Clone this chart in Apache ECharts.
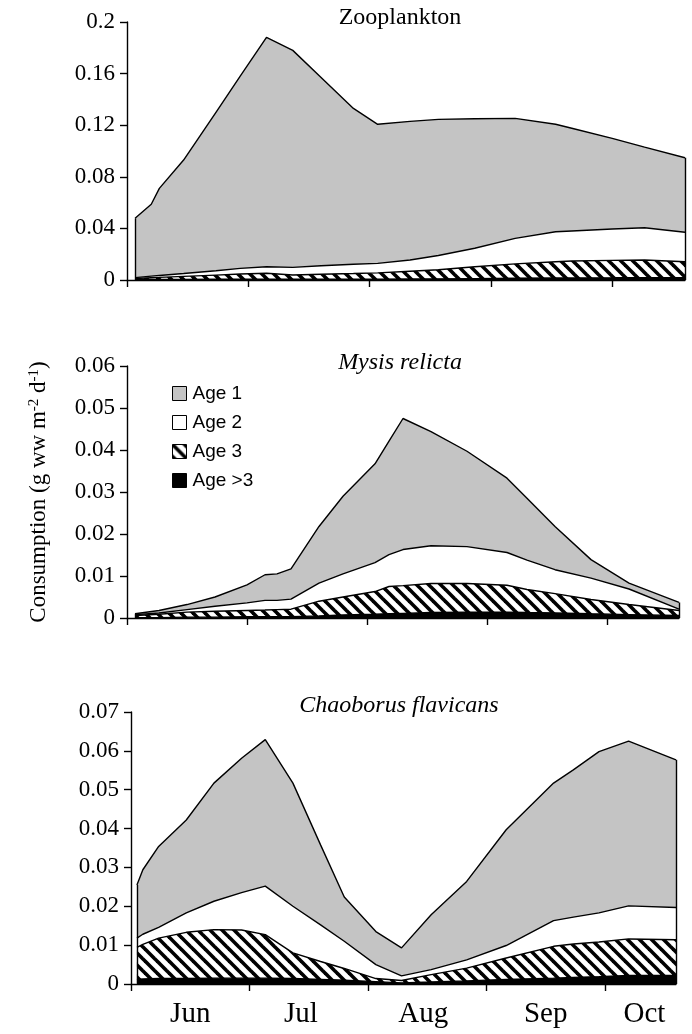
<!DOCTYPE html>
<html>
<head>
<meta charset="utf-8">
<script src="https://cdn.jsdelivr.net/npm/echarts@6/dist/echarts.min.js"></script>
<style>
  html, body { margin: 0; padding: 0; background: #fff; }
  #chart { width: 692px; height: 1034px; }
</style>
</head>
<body>
<div id="chart"></div>
<script>
// x = days since 1 June (month ticks every 30 days)
const monthTicks = [0, 30, 60, 90, 120];
const monthLabelPos = [15, 43, 74, 105, 130];
const monthLabels = ["Jun", "Jul", "Aug", "Sep", "Oct"];
const legendNames = ["Age 1", "Age 2", "Age 3", "Age >3"];

// Zooplankton
const zooDays = [2, 6, 8, 14, 22, 28, 34.5, 41, 48, 56, 62, 70, 77, 86, 96, 106, 110, 120, 128, 138];
const zooAge1 = [0.046, 0.0557, 0.0675, 0.088, 0.1228, 0.149, 0.1777, 0.1682, 0.146, 0.1208, 0.1078, 0.1075, 0.1055, 0.1004, 0.093, 0.0833, 0.0796, 0.0703, 0.0625, 0.0578];
const zooAge2 = [0.0006, 0.0012, 0.0015, 0.0022, 0.0034, 0.0044, 0.0051, 0.0059, 0.0065, 0.0072, 0.0074, 0.0087, 0.011, 0.0143, 0.0198, 0.0232, 0.0233, 0.0243, 0.025, 0.0228];
const zooAge3 = [0.0008, 0.0014, 0.0015, 0.0023, 0.0032, 0.004, 0.0045, 0.0033, 0.0039, 0.0043, 0.0048, 0.006, 0.0071, 0.0092, 0.0112, 0.0127, 0.0131, 0.0135, 0.0137, 0.0124];
const zooAge4 = [0.0004, 0.0004, 0.0005, 0.0005, 0.0006, 0.0006, 0.0007, 0.0006, 0.0006, 0.0007, 0.0007, 0.0008, 0.0009, 0.0011, 0.0013, 0.0015, 0.0016, 0.0017, 0.0018, 0.0018];

// Mysis relicta
const mysisDays = [2, 8, 15, 22, 30, 34.5, 37.5, 41, 48, 54, 62, 65.5, 69, 76, 85, 95, 100, 107, 116, 125.5, 138];
const mysisAge1 = [0.0002, 0.0006, 0.0012, 0.0022, 0.0043, 0.0061, 0.0063, 0.0072, 0.0135, 0.0185, 0.0235, 0.027, 0.0312, 0.0272, 0.0227, 0.0177, 0.0147, 0.0103, 0.0044, 0.0014, 0.0016];
const mysisAge2 = [0.0002, 0.0003, 0.0006, 0.0012, 0.0018, 0.0023, 0.0022, 0.0024, 0.0043, 0.0055, 0.0069, 0.0076, 0.0086, 0.009, 0.0088, 0.0078, 0.007, 0.0057, 0.0051, 0.0037, 0.0003];
const mysisAge3 = [0.0005, 0.0008, 0.0012, 0.0014, 0.0015, 0.0016, 0.0017, 0.0018, 0.0035, 0.0043, 0.0054, 0.0065, 0.0066, 0.0069, 0.0068, 0.0064, 0.0055, 0.0046, 0.0034, 0.0024, 0.0012];
const mysisAge4 = [0.0001, 0.0001, 0.0002, 0.0002, 0.0003, 0.0003, 0.0003, 0.0003, 0.0005, 0.0007, 0.0009, 0.001, 0.0011, 0.0013, 0.0014, 0.0014, 0.0013, 0.0012, 0.001, 0.0008, 0.0006];

// Chaoborus flavicans
const chaoDays = [1.5, 3, 7, 14, 21, 28, 34, 41, 48, 54, 62, 68.5, 76, 85, 95, 107, 112, 118.5, 126, 138];
const chaoAge1 = [0.0137, 0.0166, 0.0208, 0.0239, 0.0304, 0.0346, 0.0377, 0.0317, 0.0206, 0.0114, 0.0085, 0.0072, 0.0141, 0.0202, 0.0298, 0.0354, 0.0379, 0.0415, 0.0424, 0.038];
const chaoAge2 = [0.0024, 0.0026, 0.0028, 0.005, 0.0073, 0.0096, 0.0125, 0.012, 0.0094, 0.007, 0.0036, 0.0012, 0.0013, 0.0021, 0.0032, 0.0066, 0.0069, 0.0075, 0.0085, 0.0083];
const chaoAge3 = [0.0082, 0.0089, 0.0104, 0.0119, 0.0125, 0.0124, 0.0112, 0.0066, 0.0046, 0.003, 0.0008, 0.0006, 0.0019, 0.0033, 0.0055, 0.0082, 0.0086, 0.0089, 0.0094, 0.0092];
const chaoAge4 = [0.0012, 0.0013, 0.0014, 0.0014, 0.0015, 0.0015, 0.0015, 0.0014, 0.0012, 0.001, 0.0006, 0.0003, 0.0005, 0.0008, 0.0012, 0.0015, 0.0017, 0.0019, 0.0022, 0.0022];

const yMax = [0.2, 0.06, 0.07];
const yStep = [0.04, 0.01, 0.01];

const serif = "Liberation Serif";

// diagonal hatch for Age 3
const hatch = document.createElement("canvas");
hatch.width = 12;
hatch.height = 12;
(function () {
  const ctx = hatch.getContext("2d");
  ctx.fillStyle = "#fff";
  ctx.fillRect(0, 0, 12, 12);
  ctx.strokeStyle = "#000";
  ctx.lineWidth = 3.6;
  [-12, 0, 12].forEach(function (c) {
    ctx.beginPath();
    ctx.moveTo(-3, c - 3);
    ctx.lineTo(15, c + 15);
    ctx.stroke();
  });
})();

const fills = {
  "Age >3": "#000",
  "Age 3": { image: hatch, repeat: "repeat" },
  "Age 2": "#fff",
  "Age 1": "#c4c4c4"
};

// layers listed bottom -> top
const panels = [
  { days: zooDays, layers: [zooAge4, zooAge3, zooAge2, zooAge1] },
  { days: mysisDays, layers: [mysisAge4, mysisAge3, mysisAge2, mysisAge1] },
  { days: chaoDays, layers: [chaoAge4, chaoAge3, chaoAge2, chaoAge1] }
];
const stackNames = ["Age >3", "Age 3", "Age 2", "Age 1"];

// each band is drawn as the running total down to zero, top band first,
// so the opaque fills of the lower bands cover the rest
let series = [];
panels.forEach(function (p, idx) {
  const n = p.days.length;
  const cum = p.layers.map(function (arr, k) {
    return p.days.map(function (d, i) {
      let s = 0;
      for (let j = 0; j <= k; j++) s += p.layers[j][i];
      return +s.toFixed(5);
    });
  });
  for (let k = 3; k >= 0; k--) {
    const name = stackNames[k];
    const s = {
      name: name,
      type: "line",
      xAxisIndex: idx,
      yAxisIndex: idx,
      showSymbol: false,
      symbol: "none",
      silent: true,
      data: p.days.map(function (d, i) { return [d, cum[k][i]]; }),
      lineStyle: { color: "#000", width: 1.4 },
      itemStyle: { color: fills[name], borderColor: "#000" },
      areaStyle: { color: fills[name], opacity: 1 }
    };
    if (k === 3) {
      s.markLine = {
        silent: true,
        symbol: "none",
        label: { show: false },
        lineStyle: { color: "#000", width: 1.4, type: "solid" },
        data: [
          [{ coord: [p.days[0], 0] }, { coord: [p.days[0], cum[3][0]] }],
          [{ coord: [p.days[n - 1], 0] }, { coord: [p.days[n - 1], cum[3][n - 1]] }]
        ]
      };
    }
    series.push(s);
  }
});

const grids = [
  { left: 127, top: 22, width: 558, height: 258 },
  { left: 127, top: 366, width: 552, height: 252 },
  { left: 131, top: 712, width: 545, height: 272 }
];

const titleStyle = { fontFamily: serif, fontSize: 24, fontWeight: "normal", color: "#000" };

const option = {
  backgroundColor: "#fff",
  animation: false,
  title: [
    { text: "Zooplankton", left: 400, top: 6, textAlign: "center", padding: 0,
      textStyle: titleStyle },
    { text: "Mysis relicta", left: 400, top: 351, textAlign: "center", padding: 0,
      textStyle: Object.assign({}, titleStyle, { fontStyle: "italic" }) },
    { text: "Chaoborus flavicans", left: 399, top: 694, textAlign: "center", padding: 0,
      textStyle: Object.assign({}, titleStyle, { fontStyle: "italic" }) }
  ],
  legend: {
    data: legendNames,
    orient: "vertical",
    left: 172,
    top: 384,
    padding: 0,
    itemWidth: 14,
    itemHeight: 14,
    itemGap: 10,
    icon: "rect",
    selectedMode: false,
    itemStyle: { borderColor: "#000", borderWidth: 1 },
    textStyle: { fontFamily: "Liberation Sans", fontSize: 19, lineHeight: 19, color: "#000", padding: [0, 0, 0, 1] }
  },
  grid: grids,
  xAxis: grids.map(function (g, i) {
    return {
      gridIndex: i,
      type: "value",
      min: 0,
      max: 138,
      axisLine: { lineStyle: { color: "#000", width: 1.4 } },
      axisTick: { show: true, customValues: monthTicks, length: 7, lineStyle: { color: "#000", width: 1.4 } },
      axisLabel: {
        show: i === 2,
        customValues: monthLabelPos,
        formatter: function (v) { return monthLabels[monthLabelPos.indexOf(v)] || ""; },
        fontFamily: serif,
        fontSize: 29,
        color: "#000",
        margin: 16
      },
      splitLine: { show: false }
    };
  }),
  yAxis: grids.map(function (g, i) {
    const ax = {
      gridIndex: i,
      type: "value",
      min: 0,
      max: yMax[i],
      interval: yStep[i],
      axisLine: { show: true, lineStyle: { color: "#000", width: 1.4 } },
      axisTick: { show: true, length: 7, lineStyle: { color: "#000", width: 1.4 } },
      axisLabel: {
        fontFamily: serif,
        fontSize: 23,
        color: "#000",
        margin: 12,
        formatter: function (v) { return String(+v.toFixed(3)); }
      },
      splitLine: { show: false }
    };
    if (i === 1) {
      ax.name = "Consumption (g ww m{sup|-2} d{sup|-1})";
      ax.nameLocation = "middle";
      ax.nameRotate = 90;
      ax.nameGap = 76;
      ax.nameTextStyle = {
        fontFamily: serif,
        fontSize: 23,
        color: "#000",
        rich: {
          sup: { fontFamily: serif, fontSize: 15, verticalAlign: "top", padding: [0, 0, 9, 0] }
        }
      };
    }
    return ax;
  }),
  series: series
};

const chart = echarts.init(document.getElementById("chart"));
chart.setOption(option);
</script>
</body>
</html>
